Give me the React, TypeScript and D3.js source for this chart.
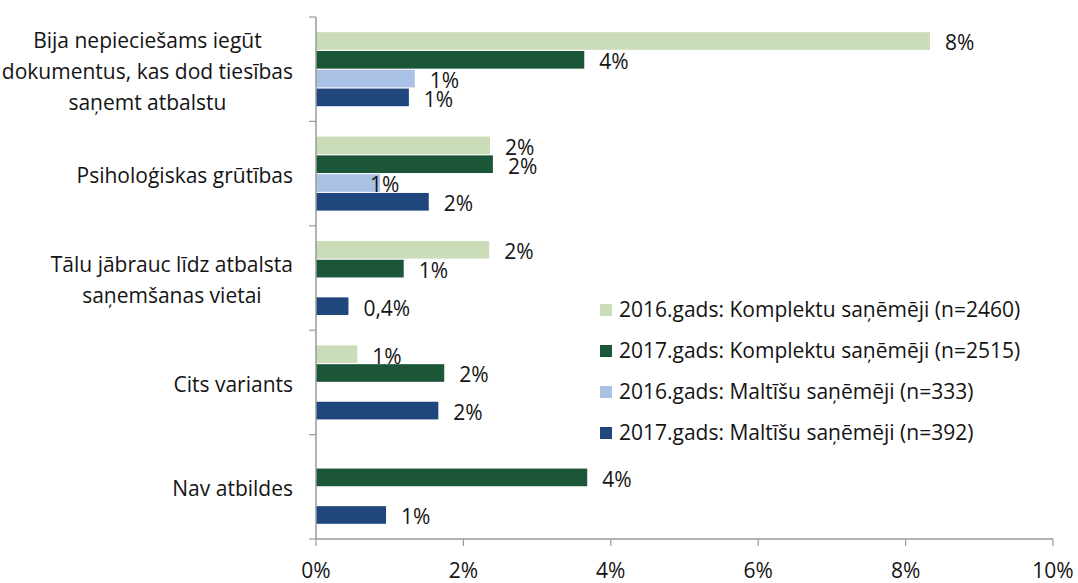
import React, { useEffect, useRef } from 'react';
import * as d3 from 'd3';

const categories: string[][] = [
  ['Bija nepieciešams iegūt', 'dokumentus, kas dod tiesības', 'saņemt atbalstu'],
  ['Psiholoģiskas grūtības'],
  ['Tālu jābrauc līdz atbalsta', 'saņemšanas vietai'],
  ['Cits variants'],
  ['Nav atbildes'],
];

const seriesNames = [
  '2016.gads: Komplektu saņēmēji (n=2460)',
  '2017.gads: Komplektu saņēmēji (n=2515)',
  '2016.gads: Maltīšu saņēmēji (n=333)',
  '2017.gads: Maltīšu saņēmēji (n=392)',
];

const komplekti2016: (number | null)[] = [8.33, 2.36, 2.35, 0.56, null];
const komplekti2017: (number | null)[] = [3.64, 2.4, 1.19, 1.74, 3.68];
const maltites2016: (number | null)[] = [1.34, 0.87, null, null, null];
const maltites2017: (number | null)[] = [1.26, 1.53, 0.44, 1.66, 0.95];

const xTicks = [0, 2, 4, 6, 8, 10];

const colors = ['#cadcb8', '#1b5638', '#a9c1e5', '#1f467d'];

const W = 1078;
const H = 583;
const FONT = "'Open Sans', sans-serif";
const FS = 21;
const TXT = '#141414';

export default function App() {
  const ref = useRef<SVGSVGElement | null>(null);

  useEffect(() => {
    const svg = d3.select(ref.current);
    svg.selectAll('*').remove();

    const left = 316, right = 1053, top = 17, bottom = 539;
    const x = d3.scaleLinear().domain([0, 10]).range([left, right]);
    const catIdx = categories.map((_, i) => String(i));
    const y0 = d3.scaleBand<string>().domain(catIdx).range([top, bottom]).paddingInner(0.291).paddingOuter(0.1455);
    const y1 = d3.scaleBand<string>().domain(seriesNames).range([0, y0.bandwidth()]).paddingInner(0.06);

    const seriesValues = [komplekti2016, komplekti2017, maltites2016, maltites2017];
    const fmt = (v: number) => (v < 0.5 ? d3.format('.1f')(v).replace('.', ',') + '%' : Math.round(v) + '%');

    // bars
    const g = svg.append('g');
    seriesValues.forEach((vals, s) => {
      vals.forEach((v, c) => {
        if (v == null) return;
        g.append('rect')
          .attr('x', x(0))
          .attr('y', (y0(String(c)) as number) + (y1(seriesNames[s]) as number))
          .attr('width', x(v) - x(0))
          .attr('height', y1.bandwidth())
          .attr('fill', colors[s]);
      });
    });

    // axes
    const axisColor = '#9a9a9a';
    svg.append('line').attr('x1', left).attr('x2', left).attr('y1', top).attr('y2', bottom)
      .attr('stroke', axisColor).attr('stroke-width', 1.5);
    svg.append('line').attr('x1', left).attr('x2', right).attr('y1', bottom).attr('y2', bottom)
      .attr('stroke', axisColor).attr('stroke-width', 1.5);
    const step = y0.step();
    for (let k = 0; k <= categories.length; k++) {
      const yy = top + k * step;
      svg.append('line').attr('x1', left - 7).attr('x2', left).attr('y1', yy).attr('y2', yy)
        .attr('stroke', axisColor).attr('stroke-width', 1.2);
    }
    xTicks.forEach((t) => {
      svg.append('line').attr('x1', x(t)).attr('x2', x(t)).attr('y1', bottom).attr('y2', bottom + 7)
        .attr('stroke', axisColor).attr('stroke-width', 1.2);
      svg.append('text').attr('x', x(t)).attr('y', 578).attr('text-anchor', 'middle')
        .attr('font-family', FONT).attr('font-size', FS).attr('fill', TXT)
        .text(t + '%');
    });

    // data labels
    seriesValues.forEach((vals, s) => {
      vals.forEach((v, c) => {
        if (v == null) return;
        const cy = (y0(String(c)) as number) + (y1(seriesNames[s]) as number) + y1.bandwidth() / 2;
        const dx = s === 2 && c === 1 ? -10 : 15;
        svg.append('text').attr('x', x(v) + dx).attr('y', cy + 2 + FS * 0.35)
          .attr('font-family', FONT).attr('font-size', FS).attr('fill', TXT)
          .text(fmt(v));
      });
    });

    // category labels
    const lineH = 31;
    categories.forEach((lines, c) => {
      const cy = (y0(String(c)) as number) + y0.bandwidth() / 2 + 2;
      const grp = svg.append('g');
      const texts = lines.map((ln, i) =>
        grp.append('text')
          .attr('y', cy + (i - (lines.length - 1) / 2) * lineH + FS * 0.35)
          .attr('text-anchor', 'middle')
          .attr('font-family', FONT).attr('font-size', FS).attr('fill', TXT)
          .text(ln)
      );
      const maxW = d3.max(texts, (t) => (t.node() as SVGTextElement).getComputedTextLength()) || 0;
      const cx = 293 - maxW / 2;
      texts.forEach((t) => t.attr('x', cx));
    });

    // legend
    seriesNames.forEach((name, i) => {
      const ly = 310 + i * 41;
      svg.append('rect').attr('x', 600).attr('y', ly - 6).attr('width', 12).attr('height', 12).attr('fill', colors[i]);
      svg.append('text').attr('x', 619).attr('y', ly + FS * 0.35)
        .attr('font-family', FONT).attr('font-size', FS).attr('fill', TXT)
        .text(name);
    });
  }, []);

  return (
    <svg ref={ref} width={W} height={H} style={{ position: 'absolute', left: 0, top: 0, background: '#fff' }} />
  );
}
